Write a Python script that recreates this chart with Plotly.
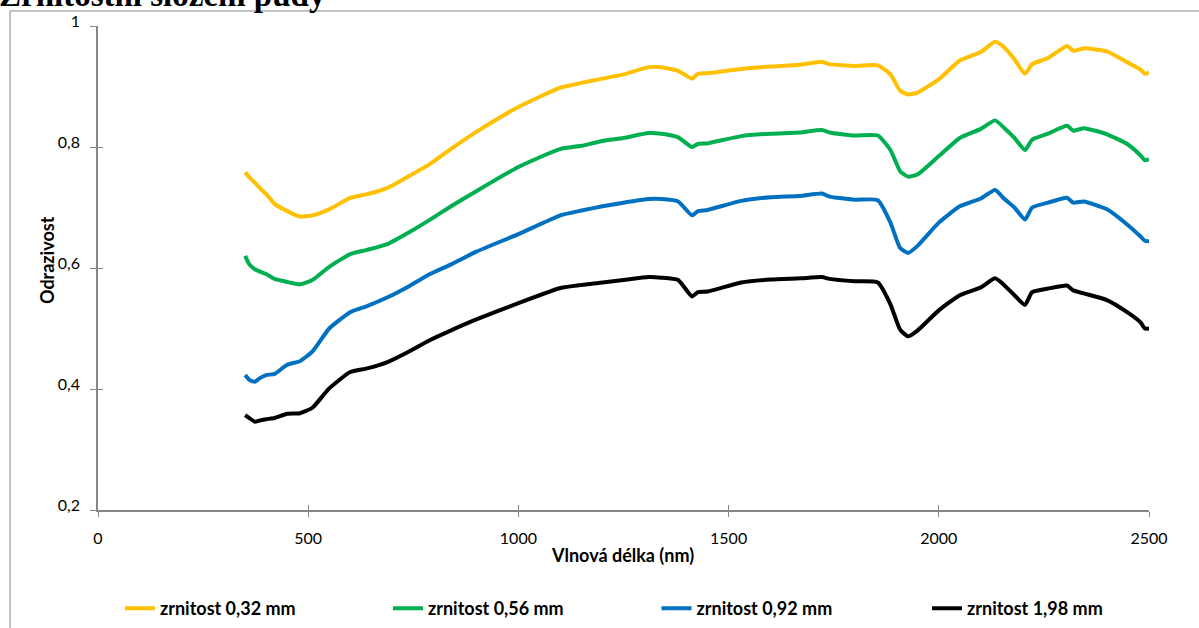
import plotly.graph_objects as go

wavelength = [350, 360, 373, 385, 400, 420, 450, 480, 510, 550, 600, 640, 690, 740, 790, 840, 900,
              1000, 1100, 1150, 1200, 1250, 1310, 1340, 1380, 1413, 1427, 1450, 1530, 1600, 1670,
              1722, 1740, 1800, 1855, 1885, 1908, 1927, 1950, 2000, 2050, 2100, 2134, 2155, 2180,
              2205, 2222, 2260, 2305, 2320, 2345, 2400, 2448, 2480, 2490, 2500]

z032 = [0.758, 0.750, 0.741, 0.732, 0.722, 0.706, 0.694, 0.685, 0.687, 0.697, 0.716, 0.722, 0.733,
        0.752, 0.772, 0.797, 0.825, 0.866, 0.898, 0.906, 0.913, 0.920, 0.932, 0.932, 0.926, 0.913,
        0.921, 0.922, 0.929, 0.933, 0.936, 0.941, 0.937, 0.934, 0.935, 0.920, 0.893, 0.887, 0.890,
        0.912, 0.943, 0.957, 0.974, 0.965, 0.945, 0.921, 0.937, 0.947, 0.967, 0.959, 0.963, 0.958,
        0.940, 0.928, 0.921, 0.923]

z056 = [0.620, 0.606, 0.598, 0.594, 0.590, 0.582, 0.577, 0.573, 0.580, 0.602, 0.623, 0.630, 0.640,
        0.659, 0.680, 0.702, 0.727, 0.767, 0.797, 0.802, 0.810, 0.815, 0.823, 0.822, 0.816, 0.800,
        0.805, 0.806, 0.818, 0.822, 0.824, 0.828, 0.824, 0.819, 0.819, 0.795, 0.760, 0.751, 0.755,
        0.785, 0.815, 0.830, 0.844, 0.832, 0.815, 0.795, 0.812, 0.822, 0.835, 0.827, 0.831, 0.821,
        0.805, 0.786, 0.778, 0.780]

z092 = [0.423, 0.415, 0.412, 0.418, 0.423, 0.425, 0.440, 0.446, 0.462, 0.500, 0.527, 0.537, 0.552,
        0.570, 0.590, 0.606, 0.627, 0.656, 0.687, 0.695, 0.702, 0.708, 0.714, 0.714, 0.710, 0.687,
        0.694, 0.696, 0.711, 0.717, 0.719, 0.723, 0.718, 0.713, 0.712, 0.675, 0.633, 0.625, 0.637,
        0.675, 0.702, 0.715, 0.729, 0.715, 0.700, 0.680, 0.700, 0.708, 0.716, 0.708, 0.710, 0.697,
        0.672, 0.652, 0.645, 0.644]

z198 = [0.357, 0.352, 0.346, 0.348, 0.350, 0.352, 0.359, 0.360, 0.369, 0.401, 0.428, 0.434, 0.445,
        0.462, 0.481, 0.497, 0.515, 0.542, 0.567, 0.572, 0.576, 0.580, 0.585, 0.584, 0.580, 0.553,
        0.560, 0.561, 0.576, 0.581, 0.583, 0.585, 0.582, 0.578, 0.576, 0.540, 0.498, 0.487, 0.497,
        0.530, 0.555, 0.568, 0.583, 0.572, 0.555, 0.539, 0.560, 0.566, 0.571, 0.563, 0.558, 0.547,
        0.527, 0.510, 0.500, 0.500]

series_names = ["zrnitost 0,32 mm", "zrnitost 0,56 mm", "zrnitost 0,92 mm", "zrnitost 1,98 mm"]
series_values = [z032, z056, z092, z198]
series_colors = ["#FFC000", "#00B050", "#0070C0", "#000000"]

y_ticks = [0.2, 0.4, 0.6, 0.8, 1.0]
y_tick_text = ["0,2", "0,4", "0,6", "0,8", "1"]
x_ticks = [0, 500, 1000, 1500, 2000, 2500]

FONT = "Lato"
AXIS_GRAY = "#868686"
legend_ids = ["legend", "legend2", "legend3", "legend4"]
legend_x = [0.0209, 0.2759, 0.5314, 0.7888]

fig = go.Figure()
for name, vals, col, lid in zip(series_names, series_values, series_colors, legend_ids):
    fig.add_trace(go.Scatter(x=wavelength, y=vals, name=name, mode="lines", legend=lid,
                             line=dict(color=col, width=4, shape="spline", smoothing=0.5)))

# invisible trace so the overlay axes (inner tick halves) render
fig.add_trace(go.Scatter(x=[0], y=[None], xaxis="x2", yaxis="y2", showlegend=False,
                         hoverinfo="skip"))

legend_style = dict(orientation="h", xanchor="left", y=-0.1656, yanchor="top",
                    font=dict(family=FONT, size=18, color="black", weight="bold"),
                    bgcolor="rgba(0,0,0,0)")

fig.update_layout(
    width=1199, height=628,
    margin=dict(l=98, r=50, t=26, b=118, autoexpand=False),
    paper_bgcolor="white", plot_bgcolor="white",
    font=dict(family=FONT, size=16, color="black"),
    showlegend=True,
    xaxis=dict(range=[0, 2500], tickvals=x_ticks, showgrid=False, zeroline=False,
               showline=True, linecolor=AXIS_GRAY, linewidth=1.5,
               ticks="outside", ticklen=5, tickcolor=AXIS_GRAY, tickwidth=1,
               ticklabelstandoff=8,
               tickfont=dict(family=FONT, size=16, color="black")),
    xaxis2=dict(range=[0, 2500], tickvals=x_ticks, overlaying="x", anchor="y", side="bottom",
                showgrid=False, zeroline=False, showline=False, showticklabels=False,
                ticks="inside", ticklen=5, tickcolor=AXIS_GRAY, tickwidth=1),
    yaxis=dict(range=[0.2, 1.0], tickvals=y_ticks, ticktext=y_tick_text, showgrid=False,
               zeroline=False, showline=True, linecolor=AXIS_GRAY, linewidth=1.5,
               ticks="outside", ticklen=6, tickcolor=AXIS_GRAY, tickwidth=1,
               ticklabelstandoff=7, ticklabelshift=-5,
               tickfont=dict(family=FONT, size=16, color="black")),
    yaxis2=dict(range=[0.2, 1.0], tickvals=y_ticks, overlaying="y", anchor="x", side="left",
                showgrid=False, zeroline=False, showline=False, showticklabels=False,
                ticks="inside", ticklen=5, tickcolor=AXIS_GRAY, tickwidth=1),
)
for lid, lx in zip(legend_ids, legend_x):
    fig.update_layout({lid: dict(legend_style, x=lx)})

fig.add_annotation(text="Odrazivost", xref="paper", yref="paper", x=-0.0485, y=0.5165,
                   textangle=-90, showarrow=False, xanchor="center", yanchor="middle",
                   font=dict(family=FONT, size=18, color="black", weight="bold"))
fig.add_annotation(text="Vlnová délka (nm)", xref="paper", yref="paper", x=0.4995, y=-0.093,
                   showarrow=False, xanchor="center", yanchor="middle",
                   font=dict(family=FONT, size=18, color="black", weight="bold"))
fig.add_annotation(text="Zrnitostní složení půdy", xref="paper", yref="paper", x=-0.096, y=1.064,
                   showarrow=False, xanchor="left", yanchor="middle",
                   font=dict(family="Liberation Serif", size=33, color="black", weight="bold"))

fig.add_shape(type="rect", xref="paper", yref="paper", x0=-0.0837, x1=1.06, y0=-0.3, y1=1.031,
              line=dict(color="#898989", width=1), fillcolor="rgba(0,0,0,0)", layer="below")

fig.write_html("out.html")
